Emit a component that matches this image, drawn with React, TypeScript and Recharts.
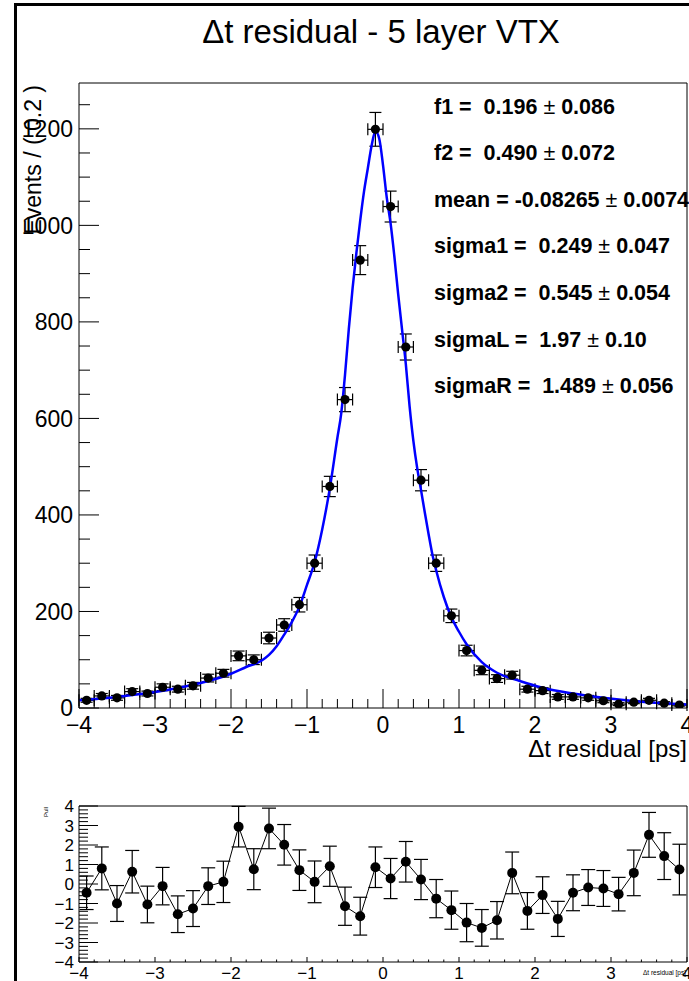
import React from 'react';
import { ComposedChart, Line, Scatter, XAxis, YAxis, ErrorBar } from 'recharts';

// bin centres of the histogram (bin width 0.2 ps)
const binCenters = [
  -3.9, -3.7, -3.5, -3.3, -3.1, -2.9, -2.7, -2.5, -2.3, -2.1,
  -1.9, -1.7, -1.5, -1.3, -1.1, -0.9, -0.7, -0.5, -0.3, -0.1,
  0.1, 0.3, 0.5, 0.7, 0.9, 1.1, 1.3, 1.5, 1.7, 1.9,
  2.1, 2.3, 2.5, 2.7, 2.9, 3.1, 3.3, 3.5, 3.7, 3.9,
];
const counts = [
  16, 25, 21, 34, 30, 43, 39, 46, 62, 72,
  108, 100, 145, 172, 214, 300, 459, 639, 928, 1199,
  1039, 748, 472, 300, 191, 119, 78, 61, 68, 39,
  36, 23, 23, 21, 15, 8, 12, 16, 10, 6,
];
const countErrors = [
  4, 5, 5, 6, 5, 7, 6, 7, 8, 8,
  10, 10, 12, 13, 15, 17, 21, 25, 30, 35,
  32, 27, 22, 17, 14, 11, 9, 8, 8, 6,
  6, 5, 5, 5, 4, 3, 3, 4, 3, 2,
];
const binHalfWidth = 0.1;

// fitted model curve
const fitX = [
  -4, -3.5, -3, -2.5, -2, -1.8, -1.6, -1.5, -1.4, -1.3,
  -1.2, -1.1, -1, -0.9, -0.8, -0.7, -0.6, -0.55, -0.5, -0.45,
  -0.4, -0.35, -0.3, -0.25, -0.2, -0.15, -0.1, -0.05, 0, 0.05,
  0.1, 0.15, 0.2, 0.25, 0.3, 0.35, 0.4, 0.45, 0.5, 0.55,
  0.6, 0.65, 0.7, 0.8, 0.9, 1, 1.1, 1.3, 1.5, 1.8,
  2.1, 2.5, 2.9, 3.4, 4,
];
const fitY = [
  16, 23, 33, 48, 71, 85, 98, 110, 128, 152,
  178, 210, 255, 302, 370, 455, 560, 610, 690, 785,
  870, 943, 1010, 1070, 1118, 1165, 1195, 1180, 1125, 1057,
  1004, 935, 857, 785, 713, 625, 553, 497, 452, 405,
  360, 318, 285, 230, 188, 158, 132, 95, 73, 56,
  42, 30, 21, 13, 7,
];

// pull distribution
const pulls = [
  -0.45, 0.8, -1.0, 0.63, -1.05, -0.11, -1.55, -1.26, -0.11, 0.11,
  2.94, 0.76, 2.85, 2.01, 0.71, 0.11, 0.91, -1.14, -1.65, 0.86,
  0.28, 1.14, 0.23, -0.75, -1.34, -1.98, -2.25, -1.86, 0.57, -1.38,
  -0.57, -1.79, -0.45, -0.18, -0.23, -0.52, 0.57, 2.52, 1.43, 0.74,
];
const pullErrors = [
  0.86, 1.1, 0.92, 1.09, 0.94, 0.96, 0.94, 0.92, 0.94, 1.06,
  1.04, 1.05, 1.04, 1.04, 1.04, 1.07, 1.03, 0.98, 0.97, 1.04,
  1.03, 1.04, 1.03, 0.98, 0.98, 0.98, 0.94, 0.96, 1.07, 0.94,
  0.94, 0.9, 0.92, 0.92, 0.92, 0.86, 1.17, 1.15, 1.2, 1.3,
];

const fitParams = [
  ['f1 =  0.196', '0.086'],
  ['f2 =  0.490', '0.072'],
  ['mean = -0.08265', '0.0074'],
  ['sigma1 =  0.249', '0.047'],
  ['sigma2 =  0.545', '0.054'],
  ['sigmaL =  1.97', '0.10'],
  ['sigmaR =  1.489', '0.056'],
];

const FONT = '"Liberation Sans", Arial, Helvetica, sans-serif';
const X_DOMAIN: [number, number] = [-4, 4];
const Y_DOMAIN: [number, number] = [0, 1295];
const PULL_DOMAIN: [number, number] = [-4, 4];

const points = binCenters.map((x, i) => ({ x, y: counts[i], ey: countErrors[i], ex: binHalfWidth }));
const fit = fitX.map((x, i) => ({ x, y: fitY[i] }));
const pullData = binCenters.map((x, i) => ({ x, pull: pulls[i], err: pullErrors[i] }));

const steps = (from: number, to: number, step: number) => {
  const n = Math.round((to - from) / step);
  return Array.from({ length: n + 1 }, (_, i) => Math.round((from + i * step) * 1000) / 1000);
};
const onStep = (v: number, step: number) => Math.abs(v / step - Math.round(v / step)) < 1e-6;
const fmt = (v: number) => (v < 0 ? '\u2212' + Math.abs(Math.round(v)) : String(Math.round(v)));

const xTick = (o: { step: number; major: number; minor: number; dy: number; size: number }) => (p: any) => {
  const v = p.payload.value;
  const isMajor = onStep(v, o.step);
  return (
    <g>
      <line x1={p.x} x2={p.x} y1={p.y} y2={p.y - (isMajor ? o.major : o.minor)} stroke="#000" strokeWidth={1} />
      {isMajor && (
        <text x={p.x} y={p.y + o.dy} textAnchor="middle" fontSize={o.size} fontFamily={FONT} fill="#000">
          {fmt(v)}
        </text>
      )}
    </g>
  );
};

const yTick = (o: { step: number; major: number; minor: number; dx: number; size: number }) => (p: any) => {
  const v = p.payload.value;
  const isMajor = onStep(v, o.step);
  return (
    <g>
      <line x1={p.x} x2={p.x + (isMajor ? o.major : o.minor)} y1={p.y} y2={p.y} stroke="#000" strokeWidth={1} />
      {isMajor && (
        <text x={p.x - o.dx} y={p.y + o.size * 0.36} textAnchor="end" fontSize={o.size} fontFamily={FONT} fill="#000">
          {fmt(v)}
        </text>
      )}
    </g>
  );
};

const Dot = (p: any) => <circle cx={p.cx} cy={p.cy} r={4.6} fill="#000" />;

export default function App() {
  return (
    <div style={{ position: 'absolute', left: 0, top: 0, width: 689, height: 981, background: '#fff', overflow: 'hidden' }}>
      <div style={{ position: 'absolute', left: 0, top: 0 }}>
        <ComposedChart width={689} height={781} margin={{ top: 82, right: 1, bottom: 72, left: 78 }}>
          <XAxis
            dataKey="x"
            type="number"
            domain={X_DOMAIN}
            allowDataOverflow
            ticks={steps(-4, 4, 0.2)}
            interval={0}
            height={1}
            tickSize={0}
            tickMargin={0}
            tickLine={false}
            axisLine={{ stroke: '#000' }}
            tick={xTick({ step: 1, major: 19, minor: 9, dy: 25, size: 23 })}
          />
          <XAxis xAxisId="top" orientation="top" type="number" domain={X_DOMAIN} allowDataOverflow height={1} tick={false} tickLine={false} axisLine={{ stroke: '#000' }} />
          <YAxis
            type="number"
            domain={Y_DOMAIN}
            allowDataOverflow
            ticks={steps(0, 1250, 50)}
            interval={0}
            width={1}
            tickSize={0}
            tickMargin={0}
            tickLine={false}
            axisLine={{ stroke: '#000' }}
            tick={yTick({ step: 200, major: 20, minor: 11, dx: 6, size: 23 })}
          />
          <YAxis yAxisId="right" orientation="right" type="number" domain={Y_DOMAIN} allowDataOverflow width={1} tick={false} tickLine={false} axisLine={{ stroke: '#000' }} />
          <Scatter data={points} dataKey="y" shape={<Dot />} isAnimationActive={false}>
            <ErrorBar dataKey="ey" direction="y" width={6} stroke="#000" strokeWidth={1.2} />
            <ErrorBar dataKey="ex" direction="x" width={6} stroke="#000" strokeWidth={1.2} />
          </Scatter>
          <Line data={fit} dataKey="y" type="monotone" stroke="#0000ff" strokeWidth={2.5} dot={false} activeDot={false} isAnimationActive={false} />
        </ComposedChart>
      </div>

      <div style={{ position: 'absolute', left: 0, top: 760 }}>
        <ComposedChart width={689} height={221} data={pullData} margin={{ top: 45, right: 1, bottom: 18, left: 78 }}>
          <XAxis
            dataKey="x"
            type="number"
            domain={X_DOMAIN}
            allowDataOverflow
            ticks={steps(-4, 4, 0.2)}
            interval={0}
            height={1}
            tickSize={0}
            tickMargin={0}
            tickLine={false}
            axisLine={{ stroke: '#000' }}
            tick={xTick({ step: 1, major: 5, minor: 2.5, dy: 17, size: 17 })}
          />
          <XAxis xAxisId="top" orientation="top" type="number" domain={X_DOMAIN} allowDataOverflow height={1} tick={false} tickLine={false} axisLine={{ stroke: '#000' }} />
          <YAxis
            type="number"
            domain={PULL_DOMAIN}
            allowDataOverflow
            ticks={steps(-4, 4, 0.2)}
            interval={0}
            width={1}
            tickSize={0}
            tickMargin={0}
            tickLine={false}
            axisLine={{ stroke: '#000' }}
            tick={yTick({ step: 1, major: 19, minor: 9, dx: 5, size: 17 })}
          />
          <YAxis yAxisId="right" orientation="right" type="number" domain={PULL_DOMAIN} allowDataOverflow width={1} tick={false} tickLine={false} axisLine={{ stroke: '#000' }} />
          <Line
            dataKey="pull"
            type="linear"
            stroke="#000"
            strokeWidth={1}
            dot={{ r: 5, fill: '#000', stroke: '#000', strokeWidth: 0 }}
            activeDot={false}
            isAnimationActive={false}
          >
            <ErrorBar dataKey="err" direction="y" width={7} stroke="#000" strokeWidth={1.2} />
          </Line>
        </ComposedChart>
      </div>

      <svg width={689} height={981} style={{ position: 'absolute', left: 0, top: 0, pointerEvents: 'none', whiteSpace: 'pre' }} fontFamily={FONT}>
        <line x1={15.5} x2={15.5} y1={3} y2={981} stroke="#000" strokeWidth={3} />
        <line x1={14} x2={689} y1={4.5} y2={4.5} stroke="#000" strokeWidth={3} />
        <text x={381} y={43} textAnchor="middle" fontSize={33} fill="#000">
          {'\u0394t residual - 5 layer VTX'}
        </text>
        {fitParams.map(([lhs, err], i) => (
          <text key={lhs} x={434} y={113.5 + i * 46.6} fontSize={21.5} fontWeight="bold" fill="#000" style={{ whiteSpace: 'pre' }}>
            {lhs + ' '}
            <tspan fontWeight="normal">{'\u00b1'}</tspan>
            {' ' + err}
          </text>
        ))}
        <text transform="translate(41,85) rotate(-90)" textAnchor="end" fontSize={23} fill="#000">
          Events / ( 0.2 )
        </text>
        <text x={687} y={757} textAnchor="end" fontSize={24} fill="#000">
          {'\u0394t residual [ps]'}
        </text>
        <text transform="translate(48,812) rotate(-90)" textAnchor="middle" fontSize={6} fill="#000">
          Pull
        </text>
        <text x={686} y={975} textAnchor="end" fontSize={6.5} fill="#000">
          {'\u0394t residual [ps]'}
        </text>
      </svg>
    </div>
  );
}
